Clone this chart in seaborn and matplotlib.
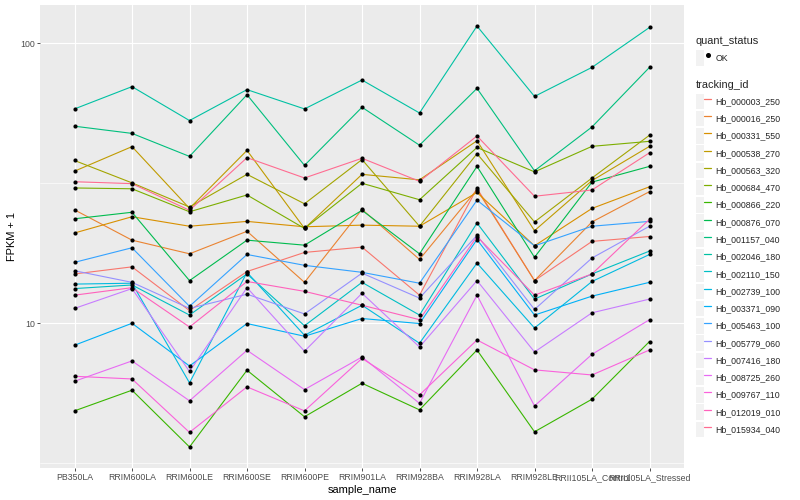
import matplotlib
matplotlib.use("Agg")
import numpy as np
import pandas as pd
import matplotlib.pyplot as plt
import seaborn as sns
from matplotlib.lines import Line2D
from matplotlib.patches import Rectangle
from matplotlib.legend_handler import HandlerTuple
from matplotlib.ticker import FixedLocator, NullFormatter

# ---------------- data ----------------
samples = ["PB350LA", "RRIM600LA", "RRIM600LE", "RRIM600SE", "RRIM600PE",
           "RRIM901LA", "RRIM928BA", "RRIM928LA", "RRIM928LE",
           "RRII105LA_Control", "RRII105LA_Stressed"]

tracking_ids = ["Hb_000003_250", "Hb_000016_250", "Hb_000331_550", "Hb_000538_270",
                "Hb_000563_320", "Hb_000684_470", "Hb_000866_220", "Hb_000876_070",
                "Hb_001157_040", "Hb_002046_180", "Hb_002110_150", "Hb_002739_100",
                "Hb_003371_090", "Hb_005463_100", "Hb_005779_060", "Hb_007416_180",
                "Hb_008725_260", "Hb_009767_110", "Hb_012019_010", "Hb_015934_040"]

# FPKM + 1 per sample (order as in `samples`)
Hb_000003_250 = [15.0, 15.9, 11.1, 15.3, 17.9, 18.7, 12.6, 30.3, 14.2, 19.6, 20.4]
Hb_000016_250 = [25.4, 19.8, 17.7, 21.3, 14.0, 25.5, 16.9, 30.0, 14.2, 23.0, 29.5]
Hb_000331_550 = [21.0, 24.0, 22.2, 23.1, 22.1, 22.4, 22.2, 29.3, 18.9, 25.7, 30.7]
Hb_000538_270 = [34.9, 42.7, 25.7, 41.4, 21.8, 34.0, 32.5, 44.8, 21.4, 32.3, 42.8]
Hb_000563_320 = [38.1, 31.7, 26.0, 34.0, 26.7, 38.4, 22.2, 40.3, 23.0, 33.0, 46.9]
Hb_000684_470 = [30.4, 30.2, 25.0, 28.7, 21.8, 31.6, 27.6, 42.4, 34.7, 42.8, 44.6]
Hb_000866_220 = [4.87, 5.77, 3.62, 6.80, 4.64, 6.11, 4.91, 8.03, 4.10, 5.36, 8.61]
Hb_000876_070 = [23.6, 24.9, 14.2, 19.8, 19.0, 25.3, 17.7, 36.3, 17.2, 31.9, 36.3]
Hb_001157_040 = [50.5, 47.6, 39.4, 65.4, 36.6, 59.0, 43.2, 68.9, 35.0, 50.2, 81.9]
Hb_002046_180 = [58.2, 69.9, 52.9, 68.2, 58.2, 73.8, 56.3, 115.0, 64.5, 81.9, 113.7]
Hb_002110_150 = [13.3, 13.7, 10.7, 15.0, 9.8, 14.0, 10.7, 22.8, 12.2, 15.0, 18.1]
Hb_002739_100 = [13.8, 13.9, 6.13, 15.2, 9.06, 11.6, 8.49, 16.4, 9.62, 14.1, 17.6]
Hb_003371_090 = [8.35, 10.0, 7.04, 9.98, 8.99, 10.4, 9.98, 19.9, 10.7, 12.5, 14.0]
Hb_005463_100 = [16.5, 18.6, 11.5, 17.6, 16.1, 15.2, 13.9, 27.5, 18.9, 22.2, 23.1]
Hb_005779_060 = [15.4, 14.0, 11.3, 12.7, 10.8, 15.1, 12.3, 20.6, 11.2, 17.1, 22.2]
Hb_007416_180 = [11.3, 13.3, 6.73, 13.4, 7.95, 12.8, 8.23, 14.2, 7.90, 10.9, 12.2]
Hb_008725_260 = [6.21, 7.34, 5.29, 8.01, 5.80, 7.58, 5.18, 12.6, 5.07, 7.75, 10.3]
Hb_009767_110 = [6.47, 6.33, 4.08, 5.93, 4.87, 7.49, 5.55, 8.72, 6.82, 6.54, 8.03]
Hb_012019_010 = [12.6, 13.4, 9.70, 14.1, 13.0, 11.6, 10.3, 20.4, 12.6, 15.0, 23.5]
Hb_015934_040 = [32.0, 31.5, 25.3, 39.0, 33.0, 38.8, 32.1, 46.6, 28.4, 29.9, 40.6]

series = [Hb_000003_250, Hb_000016_250, Hb_000331_550, Hb_000538_270, Hb_000563_320,
          Hb_000684_470, Hb_000866_220, Hb_000876_070, Hb_001157_040, Hb_002046_180,
          Hb_002110_150, Hb_002739_100, Hb_003371_090, Hb_005463_100, Hb_005779_060,
          Hb_007416_180, Hb_008725_260, Hb_009767_110, Hb_012019_010, Hb_015934_040]

quant_status = "OK"

# ggplot2 default hue palette for 20 levels
colors = ["#F8766D", "#EA8331", "#D89000", "#C09B00", "#A3A500", "#7CAE00", "#39B600",
          "#00BB4E", "#00BF7D", "#00C1A3", "#00BFC4", "#00BAE0", "#00B0F6", "#35A2FF",
          "#9590FF", "#C77CFF", "#E76BF3", "#FA62DB", "#FF62BC", "#FF6C91"]

rows = []
for tid, vals in zip(tracking_ids, series):
    for s, v in zip(samples, vals):
        rows.append({"tracking_id": tid, "sample_name": s, "fpkm": v,
                     "quant_status": quant_status})
df = pd.DataFrame(rows)

# ---------------- plot ----------------
sns.set_theme(style="white")
plt.rcParams["font.family"] = ["Liberation Sans", "DejaVu Sans"]

fig = plt.figure(figsize=(8, 5), dpi=100)
ax = fig.add_axes([40 / 800, 32 / 500, 644 / 800, 463 / 500])
ax.set_facecolor("#EBEBEB")

sns.lineplot(data=df, x="sample_name", y="fpkm", hue="tracking_id",
             hue_order=tracking_ids, palette=colors, estimator=None, sort=False,
             lw=0.8, legend=False, ax=ax, zorder=2)
sns.scatterplot(data=df, x="sample_name", y="fpkm", color="black", s=9,
                linewidth=0, marker="o", legend=False, ax=ax, zorder=3)

ax.set_yscale("log")
lo, hi = np.log10(df["fpkm"].min()), np.log10(df["fpkm"].max())
pad = 0.05 * (hi - lo)
ax.set_ylim(10 ** (lo - pad), 10 ** (hi + pad))
ax.set_xlim(-0.6, len(samples) - 0.4)

ax.yaxis.set_major_locator(FixedLocator([10, 100]))
ax.set_yticklabels(["10", "100"])
ax.yaxis.set_minor_locator(FixedLocator([10 ** 0.5, 10 ** 1.5, 10 ** 2.5]))
ax.yaxis.set_minor_formatter(NullFormatter())

ax.set_axisbelow(True)
ax.grid(which="major", color="white", lw=0.85)
ax.grid(which="minor", axis="y", color="white", lw=0.45)
for sp in ax.spines.values():
    sp.set_visible(False)

ax.tick_params(which="major", length=2.2, width=0.6, color="#333333",
               labelsize=6.3, labelcolor="#4D4D4D", pad=1.5,
               bottom=True, left=True)
ax.tick_params(which="minor", length=0)

ax.set_xlabel("sample_name", fontsize=7.9, color="black", labelpad=2)
ax.set_ylabel("FPKM + 1", fontsize=7.9, color="black", labelpad=2)

# ---------------- legends ----------------
def keybox():
    return Rectangle((0, 0), 1, 1, facecolor="#F2F2F2", edgecolor="none")

hmap = {tuple: HandlerTuple(ndivide=None, pad=0)}
common = dict(frameon=False, fontsize=6.3, title_fontsize=7.9, handler_map=hmap,
              handlelength=1.77, handleheight=2.35, handletextpad=0.46,
              borderpad=0, borderaxespad=0, labelspacing=0.2, alignment="left",
              loc="upper left")

h1 = [(keybox(), Line2D([], [], ls="none", marker="o", color="black",
                        markersize=2.6))]
leg1 = fig.legend(h1, [quant_status], title="quant_status",
                  bbox_to_anchor=(696 / 800, 1 - 36 / 500), **common)
leg1._legend_box.sep = 3.0

h2 = [(keybox(), Line2D([], [], color=c, lw=0.9)) for c in colors]
leg2 = fig.legend(h2, tracking_ids, title="tracking_id",
                  bbox_to_anchor=(696 / 800, 1 - 79.5 / 500), **common)
leg2._legend_box.sep = 3.0

fig.savefig("out.png", dpi=100)
